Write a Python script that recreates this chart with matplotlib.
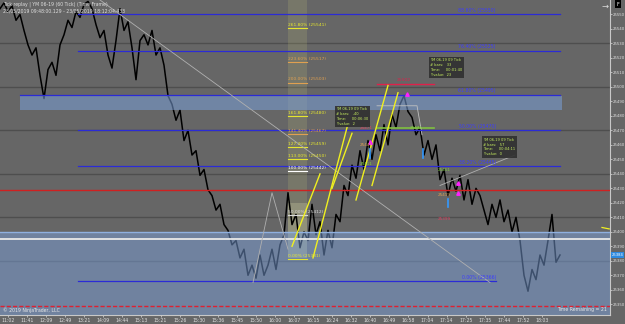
import numpy as np
import matplotlib.pyplot as plt
from matplotlib.patches import Rectangle

# price path (one point per 4 px of the original chart)
prices = [25554, 25558, 25552, 25556, 25546, 25550, 25539, 25529, 25522, 25527,
          25508, 25492, 25512, 25517, 25508, 25529, 25536, 25546, 25541, 25552,
          25548, 25557, 25559, 25554, 25543, 25534, 25539, 25522, 25513, 25532,
          25554, 25539, 25545, 25527, 25505, 25532, 25536, 25529, 25539, 25522,
          25527, 25515, 25494, 25488, 25477, 25484, 25463, 25470, 25453, 25456,
          25439, 25443, 25429, 25425, 25415, 25419, 25405, 25401, 25391, 25394,
          25382, 25388, 25370, 25377, 25368, 25384, 25370, 25377, 25388, 25374,
          25391, 25398, 25427, 25405, 25412, 25389, 25400, 25394, 25419, 25398,
          25407, 25384, 25401, 25389, 25412, 25407, 25432, 25425, 25446, 25437,
          25456, 25443, 25463, 25450, 25467, 25456, 25474, 25460, 25481, 25472,
          25488, 25494, 25483, 25479, 25467, 25472, 25453, 25463, 25450, 25460,
          25436, 25443, 25425, 25437, 25428, 25439, 25422, 25436, 25419, 25430,
          25425, 25415, 25405, 25419, 25410, 25422, 25407, 25415, 25400, 25410,
          25394, 25370, 25359, 25374, 25367, 25384, 25377, 25394, 25412, 25379,
          25384]

time_labels = ['11:02', '11:41', '12:09', '12:49', '13:21', '14:09', '14:44', '15:13',
               '15:21', '15:26', '15:30', '15:36', '15:45', '15:50', '16:00', '16:07',
               '16:15', '16:24', '16:32', '16:40', '16:49', '16:58', '17:04', '17:14',
               '17:25', '17:35', '17:44', '17:52', '18:03']
y_ticks = np.arange(25350, 25551, 10)
grid_levels = [25380, 25410, 25440, 25470, 25500, 25530]

# fib retracement (blue)
fib_ratios = [0.0, 38.2, 50.0, 61.8, 76.4, 88.6]
fib_low, fib_high = 25366, 25574
# fib extension (column)
ext_ratios = [0.0, 50.0, 100.0, 113.0, 127.2, 141.4, 161.8, 200.0, 223.6, 261.8]
ext_colors = ['#e6e62e', '#d8d8d8', '#ffffff', '#e6e62e', '#e6e62e', '#e0a050',
              '#e6e62e', '#e0a050', '#e0a050', '#e6e62e']
ext_low, ext_high = 25381, 25442

BG = '#666666'
W, H = 625, 324

fig = plt.figure(figsize=(6.25, 3.24), dpi=100, facecolor=BG)
ax = fig.add_axes([0, 9 / H, 610 / W, 315 / H])
ax.set_facecolor(BG)
x = np.arange(len(prices))
ax.set_xlim(0, 152.5)
ax.set_ylim(25342.6, 25560)

for g in grid_levels:
    ax.axhline(g, color='#4e4e4e', lw=1.0, zorder=1)

# yellow time column
ax.add_patch(Rectangle((72, 25382), 4.75, 180, color='#c8c878', alpha=0.18, lw=0, zorder=1))
ax.add_patch(Rectangle((72, 25382), 4.75, 38, color='#e0e0b0', alpha=0.25, lw=0, zorder=1))

ax.plot(x, prices, color='black', lw=1.1, zorder=3)

# zones
ax.add_patch(Rectangle((0, 25340), 152.5, 60, color='#7a9fd8', alpha=0.5, lw=0, zorder=4))
ax.axhline(25400, color='#8fb0e0', lw=1.0, zorder=5)
ax.add_patch(Rectangle((5, 25484), 135.5, 10, color='#7a9fd8', alpha=0.55, lw=0, zorder=4))
ax.axhline(25395, color='#e8e8e8', lw=1.3, zorder=5)

# red lines
ax.axhline(25429, color='#d02020', lw=1.0, zorder=5)
ax.axhline(25349, color='#e02030', lw=1.0, ls=(0, (3, 1.5)), zorder=5)
ax.plot([94.25, 108.5], [25502, 25502], color='#e0204a', lw=1.0, zorder=5)
ax.text(101, 25504, '25502', color='#e0204a', fontsize=3.2, ha='center', zorder=6)
ax.plot([94.25, 108.5], [25472, 25472], color='#80c040', lw=1.2, zorder=5)
ax.plot([94.25, 104.25, 105.5], [25487, 25487, 25467], color='#c0c0c0', lw=0.6, zorder=5)
ax.plot([150.5, 152.3], [25403, 25402], color='#f0f020', lw=0.9, zorder=6)

# fib retracement
for r in fib_ratios:
    lvl = fib_low + (fib_high - fib_low) * r / 100
    x1 = 124 if r == 0 else 140
    x0 = 5 if r == 61.8 else 19.5
    ax.plot([x0, x1], [lvl, lvl], color='#2b2bd6', lw=0.9, zorder=5)
    ax.text(124, lvl + 1, '%.2f%% (%d)' % (r, round(lvl)), color='#3c3cff',
            fontsize=3.3, ha='right', va='bottom', zorder=6)

# fib extension labels
for r, c in zip(ext_ratios, ext_colors):
    lvl = ext_low + (ext_high - ext_low) * r / 100
    ax.plot([72, 76.75], [lvl, lvl], color=c, lw=0.8, zorder=5)
    ax.text(72, lvl + 0.8, '%.2f%% (%d)' % (r, round(lvl)), color=c,
            fontsize=3.2, ha='left', va='bottom', zorder=6)

# gray diagonals
ax.plot([25, 122.5], [25560, 25365], color='#b0b0b0', lw=0.6, zorder=5)
ax.plot([63.25, 68, 72], [25365, 25427, 25388], color='#b0b0b0', lw=0.6, zorder=5)
ax.plot([110, 128.75], [25432, 25453], color='#b0b0b0', lw=0.6, zorder=5)

# yellow lines
for (xa, ya, xb, yb) in [(78.25, 25382, 86.75, 25472), (83, 25430, 88, 25468),
                         (89, 25422, 97, 25501), (93, 25432, 99.5, 25496),
                         (73, 25390, 80, 25440)]:
    ax.plot([xa, xb], [ya, yb], color='#f0f020', lw=1.0, zorder=5)

# info boxes
boxes = [(84, 25486, 'YM 06-19 09 Tick\n# bars:   -40\nTime:     00:06:30\nY value:  2'),
         (107.5, 25520, 'YM 06-19 09 Tick\n# bars:   33\nTime:     00:01:40\nY value:  23'),
         (120.75, 25465, 'YM 06-19 09 Tick\n# bars:   57\nTime:     00:04:11\nY value:  0')]
for bx, by, t in boxes:
    ax.text(bx, by, t, color='#c8f060', fontsize=2.6, va='top', ha='left', linespacing=1.3,
            bbox=dict(boxstyle='square,pad=0.4', fc='#303030', ec='none', alpha=0.9), zorder=7)

# small markers
for mx, my in [(101.75, 25495), (92.5, 25462), (114.5, 25434), (114.5, 25427)]:
    ax.plot(mx, my, marker='^', color='#ff20ff', ms=2.5, zorder=6)
for mx, my in [(92.5, 25454), (105.75, 25454), (112, 25420)]:
    ax.plot([mx, mx], [my - 3, my + 3], color='#3399ff', lw=1.2, zorder=6)
for tx, ty, c, s in [(91.5, 25471, '#e04060', '25471'), (91.5, 25459, '#e0a050', '25441'),
                     (91.5, 25446, '#80d040', '25411'), (111, 25442, '#80d040', '25451'),
                     (111, 25425, '#e0a050', '25419'), (111, 25408, '#e04060', '25399'),
                     (104, 25471, '#80d040', '25471')]:
    ax.text(tx, ty, s, color=c, fontsize=3.0, ha='center', zorder=6)

ax.yaxis.tick_right()
ax.set_yticks(y_ticks)
ax.set_yticklabels([str(v) for v in y_ticks])
ax.set_xticks([(8 + 19.07 * k) / 4 for k in range(len(time_labels))])
ax.set_xticklabels(time_labels)
ax.tick_params(colors='#e0e0e0', labelsize=3.3, length=1.5, width=0.5, pad=1)
ax.tick_params(axis='y', labelsize=2.8, length=1.2, pad=0.6)
for s in ['top', 'left']:
    ax.spines[s].set_visible(False)
for s in ['right', 'bottom']:
    ax.spines[s].set_color('#c8c8c8')
    ax.spines[s].set_linewidth(0.8)

ax.text(1.003, (25384 - 25342.6) / (25560 - 25342.6), '25384', transform=ax.transAxes,
        fontsize=2.7, color='white', va='center', ha='left',
        bbox=dict(boxstyle='square,pad=0.15', fc='#2d8ae0', ec='none'), zorder=8)

fig.text(3 / W, 1 - 4 / H, 'Tick replay | YM 06-19 (60 Tick) (Time Frame)', color='#e0e0e0',
         fontsize=3.3, va='center')
fig.text(3 / W, 1 - 11 / H, '23/05/2019 09:48:00.129 - 23/05/2019 18:12:04.433', color='#e0e0e0',
         fontsize=3.3, va='center')
fig.text(3 / W, 1 - 310 / H, '\u00a9 2019 NinjaTrader, LLC', color='#e8e8e8', fontsize=3.3, va='center')
fig.text(607 / W, 1 - 309 / H, 'Time Remaining = 21', color='#e8e8e8', fontsize=3.3, va='center', ha='right')
fig.text(605 / W, 1 - 6 / H, '\u2192', color='#dddddd', fontsize=6, va='center', ha='center')
fig.text(618 / W, 1 - 4 / H, 'F', color='white', fontsize=3.5, va='center', ha='center',
         bbox=dict(boxstyle='square,pad=0.3', fc='black', ec='none'))

fig.savefig('out.png', dpi=100, facecolor=BG)
